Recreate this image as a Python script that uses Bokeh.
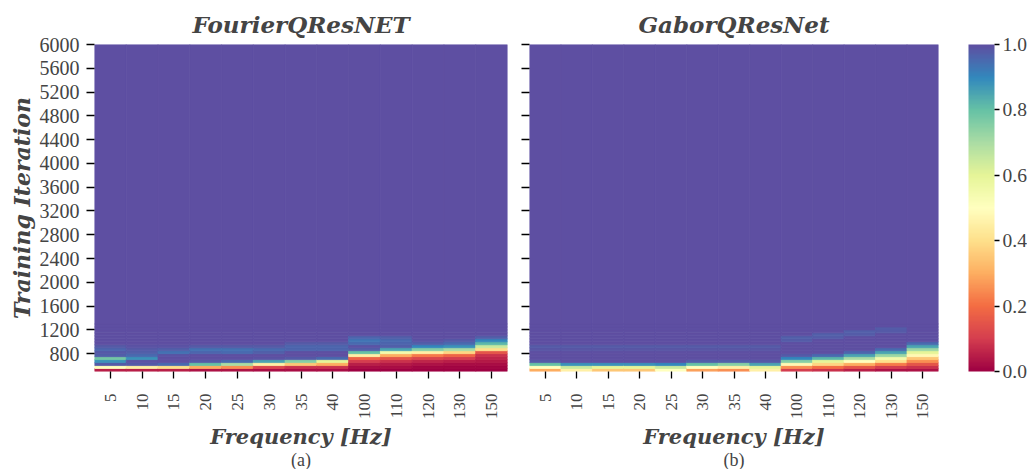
import numpy as np
from bokeh.plotting import figure
from bokeh.models import (ColumnDataSource, LinearColorMapper, ColorBar, FixedTicker, Title,
                          PrintfTickFormatter, CustomJSTickFormatter, FactorRange, Range1d)
from bokeh.layouts import row
from bokeh.transform import transform
from bokeh.embed import file_html
from bokeh.resources import INLINE

# ---------------- data ----------------
freqs = ["5", "10", "15", "20", "25", "30", "35", "40", "100", "110", "120", "130", "150"]
row_starts = [500, 550, 600, 650, 700, 750, 800, 850, 900, 950, 1000, 1050, 1100, 1150, 1200, 1250]
row_step = 50
top_block = [1300, 6000]
top_value = 1.0
y_ticks = [800, 1200, 1600, 2000, 2400, 2800, 3200, 3600, 4000, 4400, 4800, 5200, 5600, 6000]
cbar_ticks = [0.0, 0.2, 0.4, 0.6, 0.8, 1.0]

fourier_vals = [
    [0.05, 0.50, 0.98, 0.88, 0.78, 0.97, 0.98, 0.96, 0.98, 1, 1, 1, 1, 1, 1, 1],      # 5
    [0.05, 0.45, 0.98, 0.99, 0.88, 0.95, 0.97, 0.98, 0.99, 1, 1, 1, 1, 1, 1, 1],      # 10
    [0.05, 0.40, 0.95, 1.00, 1.00, 0.99, 0.94, 0.97, 0.99, 1, 1, 1, 1, 1, 1, 1],      # 15
    [0.03, 0.30, 0.80, 0.98, 1.00, 1.00, 0.96, 0.94, 0.98, 1, 1, 1, 1, 1, 1, 1],      # 20
    [0.03, 0.25, 0.70, 0.95, 1.00, 1.00, 0.95, 0.94, 0.98, 1, 1, 1, 1, 1, 1, 1],      # 25
    [0.02, 0.12, 0.45, 0.85, 0.99, 1.00, 0.97, 0.95, 0.98, 1, 1, 1, 1, 1, 1, 1],      # 30
    [0.02, 0.08, 0.35, 0.75, 0.98, 1.00, 1.00, 0.96, 0.96, 0.98, 1, 1, 1, 1, 1, 1],   # 35
    [0.02, 0.08, 0.30, 0.60, 0.95, 1.00, 1.00, 0.96, 0.96, 0.98, 1, 1, 1, 1, 1, 1],   # 40
    [0.00, 0.02, 0.05, 0.10, 0.18, 0.45, 0.80, 0.97, 0.99, 0.95, 0.93, 0.96, 1, 1, 1, 1],  # 100
    [0.00, 0.02, 0.04, 0.08, 0.15, 0.30, 0.55, 0.85, 0.97, 0.96, 0.95, 0.97, 1, 1, 1, 1],  # 110
    [0.00, 0.01, 0.03, 0.06, 0.12, 0.22, 0.45, 0.75, 0.90, 0.97, 0.99, 1, 1, 1, 1, 1],     # 120
    [0.00, 0.01, 0.02, 0.05, 0.10, 0.18, 0.38, 0.70, 0.88, 0.95, 0.98, 1, 1, 1, 1, 1],     # 130
    [0.00, 0.01, 0.02, 0.04, 0.06, 0.08, 0.15, 0.40, 0.65, 0.82, 0.90, 0.97, 1, 1, 1, 1],  # 150
]

gabor_vals = [
    [0.30, 0.50, 0.80, 0.98, 1, 1, 1, 0.985, 0.98, 1, 1, 1, 1, 1, 1, 1],              # 5
    [0.45, 0.65, 0.88, 1.00, 1, 1, 1, 0.985, 0.98, 1, 1, 1, 1, 1, 1, 1],              # 10
    [0.35, 0.60, 0.88, 1.00, 1, 1, 1, 0.985, 0.98, 1, 1, 1, 1, 1, 1, 1],              # 15
    [0.35, 0.60, 0.88, 1.00, 1, 1, 1, 0.985, 0.98, 1, 1, 1, 1, 1, 1, 1],              # 20
    [0.50, 0.65, 0.90, 1.00, 1, 1, 1, 0.985, 0.98, 1, 1, 1, 1, 1, 1, 1],              # 25
    [0.28, 0.50, 0.80, 0.97, 1, 1, 1, 0.985, 0.98, 1, 1, 1, 1, 1, 1, 1],              # 30
    [0.25, 0.45, 0.75, 0.97, 1, 1, 1, 0.985, 0.98, 1, 1, 1, 1, 1, 1, 1],              # 35
    [0.45, 0.60, 0.85, 0.98, 1, 1, 1, 0.985, 0.98, 1, 1, 1, 1, 1, 1, 1],              # 40
    [0.10, 0.25, 0.48, 0.75, 0.90, 0.98, 1, 1, 1, 1, 0.975, 0.97, 1, 1, 1, 1],         # 100
    [0.08, 0.20, 0.38, 0.60, 0.82, 0.95, 1, 1, 1, 1, 1, 0.975, 0.97, 1, 1, 1],         # 110
    [0.05, 0.15, 0.30, 0.50, 0.70, 0.85, 0.96, 1, 1, 1, 1, 1, 0.975, 0.97, 1, 1],      # 120
    [0.03, 0.10, 0.22, 0.40, 0.55, 0.72, 0.85, 0.95, 1, 1, 1, 1, 1, 0.98, 0.975, 1],   # 130
    [0.03, 0.08, 0.15, 0.25, 0.35, 0.48, 0.60, 0.72, 0.85, 0.95, 1, 1, 1, 1, 1, 1],    # 150
]

# Spectral colormap (low = dark red, high = purple)
spectral_anchors = ["#9e0142", "#d53e4f", "#f46d43", "#fdae61", "#fee08b", "#ffffbf",
                    "#e6f598", "#abdda4", "#66c2a5", "#3288bd", "#5e4fa2"]


def make_palette(anchors, n=256):
    rgb = np.array([[int(c[i:i + 2], 16) for i in (1, 3, 5)] for c in anchors], dtype=float)
    pos = np.linspace(0, 1, len(anchors))
    t = np.linspace(0, 1, n)
    out = []
    for tt in t:
        r, g, b = (np.interp(tt, pos, rgb[:, k]) for k in range(3))
        out.append("#%02x%02x%02x" % (int(round(r)), int(round(g)), int(round(b))))
    return out


palette = make_palette(spectral_anchors)
mapper = LinearColorMapper(palette=palette, low=0.0, high=1.0)


def build_source(vals):
    xs, ys, hs, vs = [], [], [], []
    for f, col in zip(freqs, vals):
        for s, v in zip(row_starts, col):
            xs.append(f)
            ys.append(s + row_step / 2)
            hs.append(row_step)
            vs.append(v)
        xs.append(f)
        ys.append((top_block[0] + top_block[1]) / 2)
        hs.append(top_block[1] - top_block[0])
        vs.append(top_value)
    return ColumnDataSource(dict(x=xs, y=ys, h=hs, v=vs))


SERIF = "Liberation Serif"
TFONT = "DejaVu Serif"


def make_panel(title, caption, vals, frame_w, mb_left, mb_right, show_ylabels):
    p = figure(frame_width=frame_w, frame_height=327, x_range=FactorRange(*freqs),
               y_range=Range1d(500, 6000),
               output_backend="svg", toolbar_location=None,
               min_border_left=mb_left, min_border_right=mb_right,
               min_border_top=44, min_border_bottom=98)
    p.rect(x="x", y="y", width=1, height="h", source=build_source(vals),
           fill_color=transform("v", mapper), line_color=transform("v", mapper), line_width=0.8)
    p.title.text = title
    p.title.align = "center"
    p.title.text_font = TFONT
    p.title.text_font_style = "bold italic"
    p.title.text_font_size = "23px"
    p.title.standoff = 14
    p.grid.visible = False
    p.outline_line_color = None
    p.background_fill_color = "white"
    p.border_fill_color = "white"

    xa = p.xaxis[0]
    xa.major_label_orientation = np.pi / 2
    xa.major_label_text_font = SERIF
    xa.major_label_text_font_size = "17px"
    xa.major_label_standoff = 15
    xa.major_tick_out = 7
    xa.major_tick_in = 0
    xa.major_tick_line_width = 1.3
    xa.axis_line_color = None
    xa.axis_label = "Frequency [Hz]"
    xa.axis_label_text_font = TFONT
    xa.axis_label_text_font_style = "bold italic"
    xa.axis_label_text_font_size = "21px"
    xa.axis_label_standoff = 2

    ya = p.yaxis[0]
    ya.ticker = FixedTicker(ticks=y_ticks)
    ya.minor_tick_line_color = None
    ya.major_tick_out = 8
    ya.major_tick_in = 0
    ya.major_tick_line_width = 1.3
    ya.axis_line_color = None
    ya.major_label_text_font = SERIF
    ya.major_label_text_font_size = "20px"
    ya.major_label_standoff = 7
    if show_ylabels:
        ya.axis_label = "Training Iteration"
        ya.axis_label_text_font = TFONT
        ya.axis_label_text_font_style = "bold italic"
        ya.axis_label_text_font_size = "22px"
        ya.axis_label_standoff = 2
    else:
        ya.formatter = CustomJSTickFormatter(code="return ''")
        ya.major_label_standoff = 0

    p.add_layout(Title(text=caption, align="center", vertical_align="top", text_font=SERIF,
                       text_font_style="normal", text_font_size="18px", standoff=-6, offset=0),
                 "below")
    return p


p1 = make_panel("FourierQResNET", "(a)", fourier_vals, 413, 94, 5, True)
p2 = make_panel("GaborQResNet", "(b)", gabor_vals, 409, 17, 0, False)

cb = ColorBar(color_mapper=mapper, ticker=FixedTicker(ticks=cbar_ticks),
              formatter=PrintfTickFormatter(format="%.1f"),
              width=26, height=327, padding=0, margin=0, location=(30, 0),
              major_tick_out=5, major_tick_in=0, major_tick_line_color="black",
              major_tick_line_width=1.3, bar_line_color=None, label_standoff=3,
              major_label_text_font=SERIF, major_label_text_font_size="19.5px",
              border_line_color=None, background_fill_color=None)
p2.add_layout(cb, "right")

layout = row(p1, p2)
open("out.html", "w").write(file_html(layout, INLINE))
